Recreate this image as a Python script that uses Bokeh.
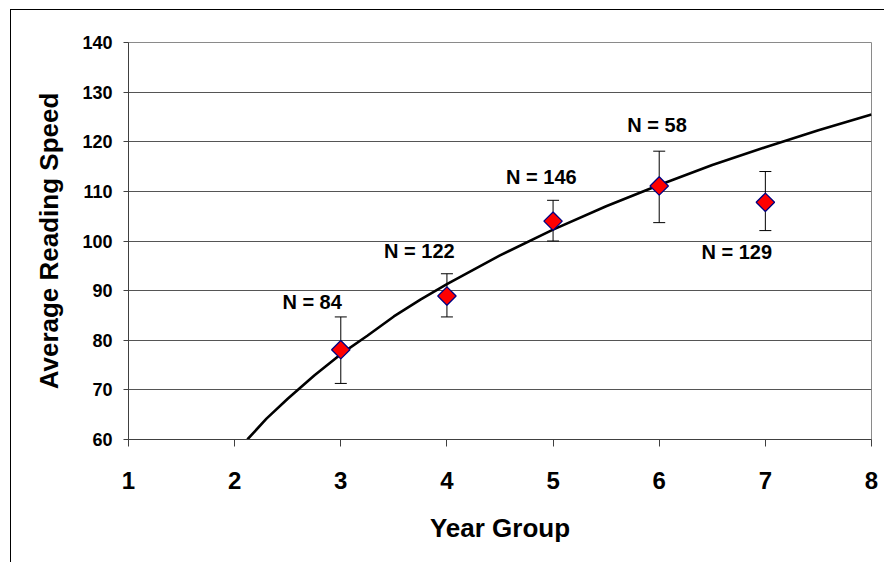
import numpy as np
from bokeh.plotting import figure
from bokeh.layouts import column
from bokeh.models import (Range1d, Whisker, TeeHead, ColumnDataSource, FixedTicker)
from bokeh.core.properties import value
from bokeh.embed import file_html
from bokeh.resources import INLINE

# ---- data ----
year_group = [3, 4, 5, 6, 7]
avg_speed = [78.1, 88.9, 104.0, 111.1, 107.8]
err_lower = [71.3, 84.7, 100.0, 103.7, 102.1]
err_upper = [84.7, 93.4, 108.2, 118.1, 114.0]

curve_x = [2.12, 2.3, 2.5, 2.75, 3.0, 3.25, 3.5, 3.75, 4.0, 4.5, 5.0, 5.5,
           6.0, 6.5, 7.0, 7.5, 8.0]
curve_y = [60.0, 64.2, 68.2, 72.9, 77.2, 80.9, 84.8, 88.2, 91.3, 97.1, 102.3,
           107.0, 111.3, 115.3, 118.9, 122.3, 125.5]

label_text = ["N = 84", "N = 122", "N = 146", "N = 58", "N = 129"]
label_x = [2.73, 3.74, 4.89, 5.98, 6.73]
label_y = [87.7, 98.0, 112.9, 123.3, 97.8]

x_ticks = [1, 2, 3, 4, 5, 6, 7, 8]
y_ticks = [60, 70, 80, 90, 100, 110, 120, 130, 140]

FONT = "Liberation Sans"

# container border sits at page x=10, y=9; figure starts at x=11, y=10
p = figure(width=873, height=552, x_range=Range1d(1, 8), y_range=Range1d(60, 140),
           output_backend="svg", toolbar_location=None,
           min_border_left=117, min_border_right=13, min_border_top=32,
           min_border_bottom=123)

p.background_fill_color = "white"
p.border_fill_color = "white"
p.outline_line_color = "#8a8a8a"
p.outline_line_width = 1

# grid
p.xgrid.visible = False
p.ygrid.ticker = FixedTicker(ticks=y_ticks)
p.ygrid.grid_line_color = "#555555"
p.ygrid.grid_line_width = 1

# axes
p.xaxis.ticker = FixedTicker(ticks=x_ticks)
p.yaxis.ticker = FixedTicker(ticks=y_ticks)
for ax in (p.xaxis[0], p.yaxis[0]):
    ax.axis_line_color = "#404040"
    ax.major_tick_line_color = "#404040"
    ax.minor_tick_line_color = None
    ax.major_tick_in = 0
    ax.major_label_text_font = FONT
    ax.major_label_text_font_style = "bold"
    ax.major_label_text_color = "black"
    ax.axis_label_text_font = FONT
    ax.axis_label_text_font_style = "bold"
    ax.axis_label_text_color = "black"
    ax.axis_label_text_font_size = "26px"

p.xaxis.major_tick_out = 7
p.xaxis.major_label_text_font_size = "24px"
p.xaxis.major_label_standoff = 25
p.xaxis.axis_label = "Year Group"
p.xaxis.axis_label_standoff = 21

p.yaxis.major_tick_out = 5
p.yaxis.major_label_text_font_size = "18px"
p.yaxis.major_label_standoff = 11
p.yaxis.axis_label = "Average Reading Speed"
p.yaxis.axis_label_standoff = 15

# curve
p.line(curve_x, curve_y, line_color="black", line_width=2.6)

# error bars
src = ColumnDataSource(dict(x=year_group, y=avg_speed, lower=err_lower, upper=err_upper))
wh = Whisker(base="x", lower="lower", upper="upper", source=src,
             line_color="black", line_width=1,
             upper_head=TeeHead(size=12, line_color="black", line_width=1),
             lower_head=TeeHead(size=12, line_color="black", line_width=1))
p.add_layout(wh)

# markers
p.scatter("x", "y", source=src, marker="square", size=13, angle=np.pi / 4,
          fill_color="#ff0000", line_color="#000080", line_width=1.3)

# labels
p.text(label_x, label_y, text=label_text, text_font=value(FONT),
       text_font_style="bold", text_font_size="20px", text_color="black",
       text_align="center", text_baseline="middle")

layout = column(p, styles={"border-left": "1px solid black",
                           "border-top": "1px solid black",
                           "margin-left": "10px", "margin-top": "9px"})

open("out.html", "w").write(file_html(layout, INLINE))
